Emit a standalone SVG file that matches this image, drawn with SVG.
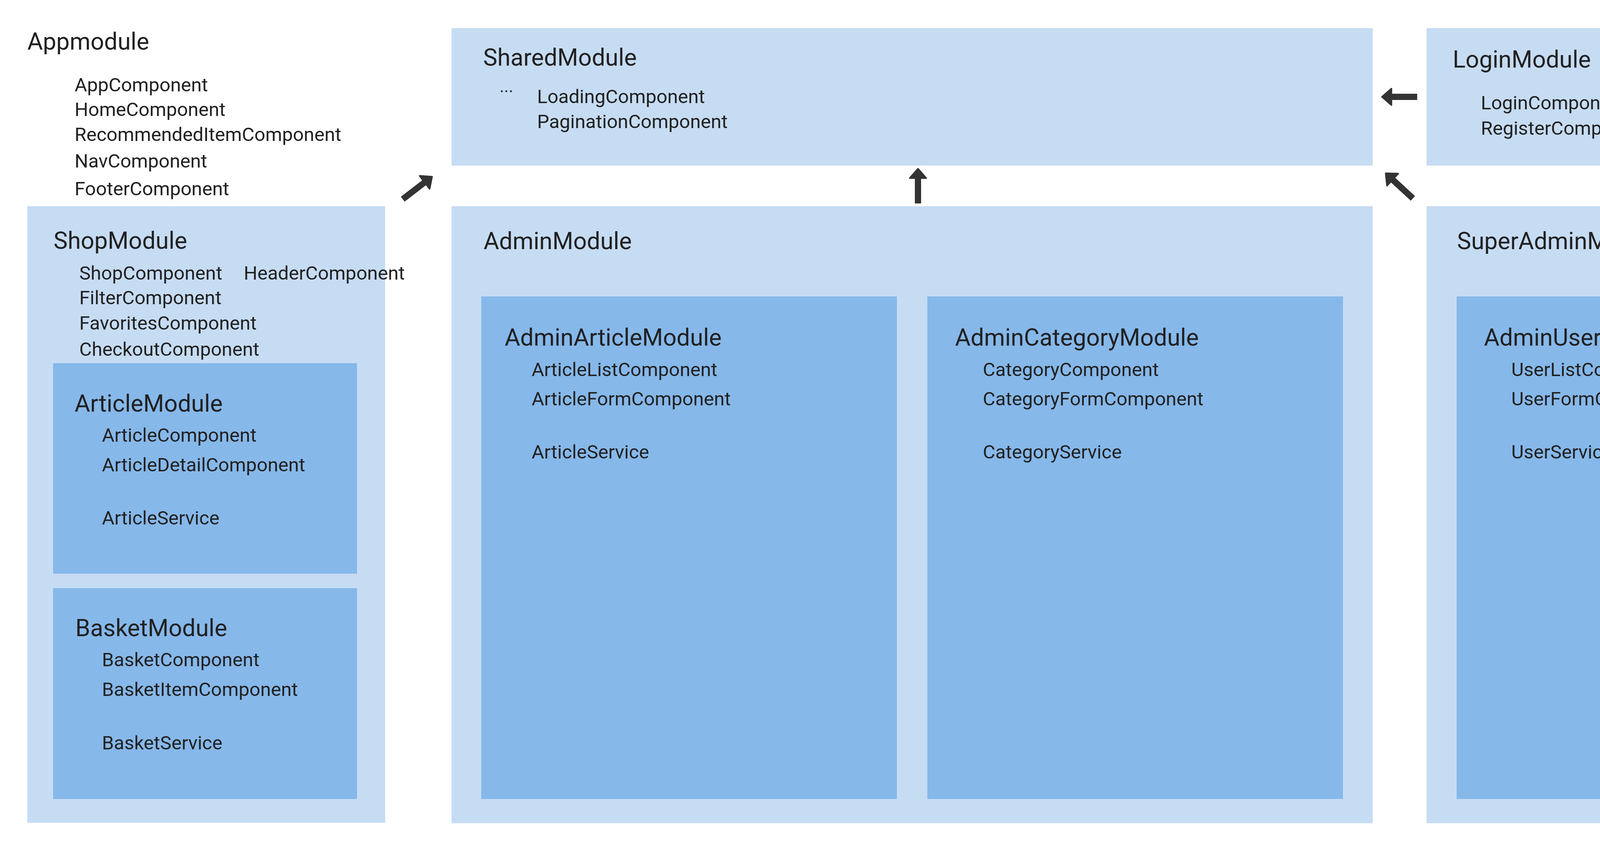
<svg xmlns="http://www.w3.org/2000/svg" width="4700" height="2174" viewBox="0 0 4700 2174">
<style>
  text { font-family: Roboto, "Liberation Sans", sans-serif; fill: #212121; }
  .t { font-size: 61px; }
  .i { font-size: 49px; }
  .outer { fill: #C6DCF3; }
  .inner { fill: #86B8EA; }
  .conn { stroke: #333333; stroke-width: 16; fill: none; marker-end: url(#head); }
</style>
<defs>
  <marker id="head" markerUnits="userSpaceOnUse" viewBox="-4 -27 34 54" markerWidth="34" markerHeight="54" refX="0" refY="0" orient="auto">
    <path d="M0,-21 L24,0 L0,21 Z" fill="#333333" stroke="#333333" stroke-width="4" stroke-linejoin="round"/>
  </marker>
</defs>
<rect width="4700" height="2174" fill="#FFFFFF"/>

<g id="appmodule">
  <text class="t" x="70" y="127">Appmodule</text>
  <text class="i" x="191" y="234">AppComponent</text>
  <text class="i" x="191" y="297">HomeComponent</text>
  <text class="i" x="191" y="361">RecommendedItemComponent</text>
  <text class="i" x="191" y="429">NavComponent</text>
  <text class="i" x="191" y="500">FooterComponent</text>
</g>

<g id="sharedmodule">
  <rect class="outer" x="1156" y="72" width="2358" height="352"/>
  <text class="t" x="1237" y="168">SharedModule</text>
  <text class="i" x="1279" y="236" style="font-size:44px">...</text>
  <text class="i" x="1375" y="264">LoadingComponent</text>
  <text class="i" x="1375" y="328">PaginationComponent</text>
</g>

<g id="loginmodule">
  <rect class="outer" x="3652" y="72" width="960" height="352"/>
  <text class="t" x="3719" y="173">LoginModule</text>
  <text class="i" x="3791" y="280">LoginComponent</text>
  <text class="i" x="3791" y="345">RegisterComponent</text>
</g>

<g id="shopmodule">
  <rect class="outer" x="70" y="528" width="916" height="1579"/>
  <text class="t" x="137" y="637">ShopModule</text>
  <text class="i" x="203" y="716">ShopComponent</text>
  <text class="i" x="624" y="716">HeaderComponent</text>
  <text class="i" x="203" y="779">FilterComponent</text>
  <text class="i" x="203" y="844">FavoritesComponent</text>
  <text class="i" x="203" y="911">CheckoutComponent</text>
</g>

<g id="articlemodule">
  <rect class="inner" x="136" y="930" width="778" height="539"/>
  <text class="t" x="191" y="1054">ArticleModule</text>
  <text class="i" x="261" y="1131">ArticleComponent</text>
  <text class="i" x="261" y="1207">ArticleDetailComponent</text>
  <text class="i" x="261" y="1343">ArticleService</text>
</g>

<g id="basketmodule">
  <rect class="inner" x="136" y="1506" width="778" height="540"/>
  <text class="t" x="193" y="1629">BasketModule</text>
  <text class="i" x="261" y="1706">BasketComponent</text>
  <text class="i" x="261" y="1782">BasketItemComponent</text>
  <text class="i" x="261" y="1919">BasketService</text>
</g>

<g id="adminmodule">
  <rect class="outer" x="1156" y="528" width="2358" height="1580"/>
  <text class="t" x="1238" y="638">AdminModule</text>
</g>

<g id="adminarticlemodule">
  <rect class="inner" x="1232" y="759" width="1064" height="1287"/>
  <text class="t" x="1292" y="885">AdminArticleModule</text>
  <text class="i" x="1361" y="963">ArticleListComponent</text>
  <text class="i" x="1361" y="1038">ArticleFormComponent</text>
  <text class="i" x="1361" y="1174">ArticleService</text>
</g>

<g id="admincategorymodule">
  <rect class="inner" x="2374" y="759" width="1064" height="1287"/>
  <text class="t" x="2445" y="885">AdminCategoryModule</text>
  <text class="i" x="2516" y="963">CategoryComponent</text>
  <text class="i" x="2516" y="1038">CategoryFormComponent</text>
  <text class="i" x="2516" y="1174">CategoryService</text>
</g>

<g id="superadminmodule">
  <rect class="outer" x="3652" y="528" width="960" height="1580"/>
  <text class="t" x="3730" y="638">SuperAdminModule</text>
</g>

<g id="adminusersmodule">
  <rect class="inner" x="3729" y="759" width="785" height="1287"/>
  <text class="t" x="3799" y="885">AdminUsersModule</text>
  <text class="i" x="3869" y="963">UserListComponent</text>
  <text class="i" x="3869" y="1038">UserFormComponent</text>
  <text class="i" x="3869" y="1174">UserService</text>
</g>

<g id="connectors">
  <path class="conn" d="M1031,510 L1087,467"/>
  <path class="conn" d="M2350,521 L2350,456"/>
  <path class="conn" d="M3628,248 L3562,248"/>
  <path class="conn" d="M3617,508 L3565,460"/>
</g>
</svg>
